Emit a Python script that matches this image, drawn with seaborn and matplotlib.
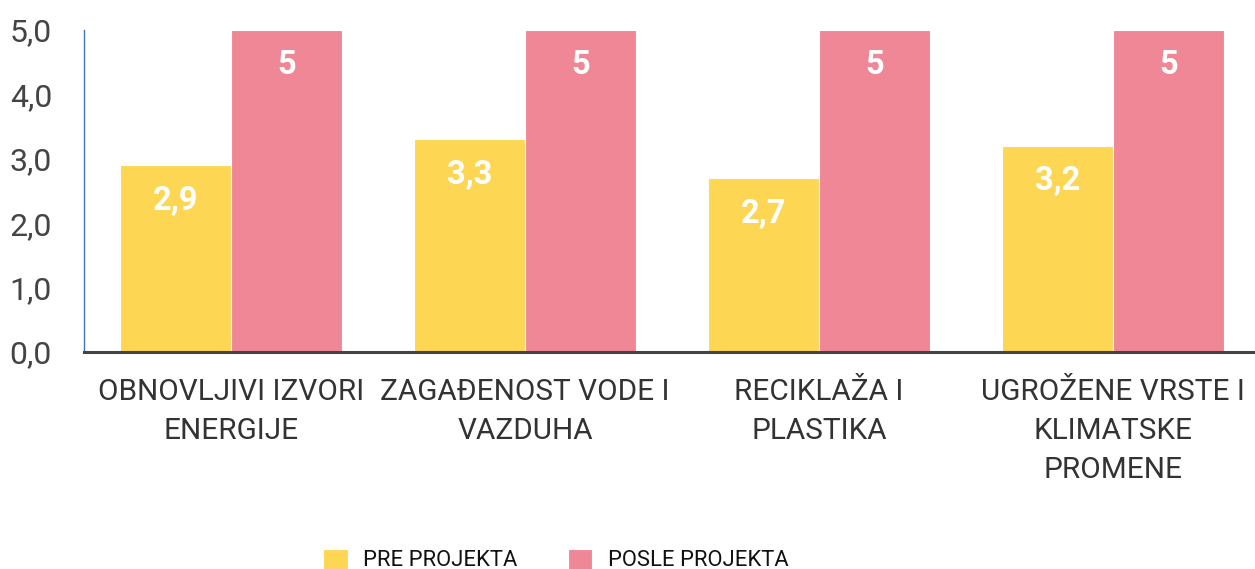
import seaborn as sns
import matplotlib.pyplot as plt
import pandas as pd

categories = ["OBNOVLJIVI IZVORI\nENERGIJE", "ZAGAĐENOST VODE I\nVAZDUHA",
              "RECIKLAŽA I\nPLASTIKA", "UGROŽENE VRSTE I\nKLIMATSKE\nPROMENE"]
series = ["PRE PROJEKTA", "POSLE PROJEKTA"]
pre = [2.9, 3.3, 2.7, 3.2]
posle = [5, 5, 5, 5]
yticks = [0, 1, 2, 3, 4, 5]

sns.set_style("white")
plt.rcParams['font.family'] = ['Roboto', 'DejaVu Sans']
palette = ["#FDD654", "#EF8797"]

df = pd.DataFrame({
    "kategorija": categories * 2,
    "vrednost": pre + posle,
    "serija": [series[0]] * len(categories) + [series[1]] * len(categories),
})

fig = plt.figure(figsize=(12.55, 5.69), dpi=100)
ax = fig.add_axes([84 / 1255, 1 - 352 / 569, 1176 / 1255, 322 / 569])

sns.barplot(data=df, x="kategorija", y="vrednost", hue="serija", palette=palette,
            width=0.755, gap=0, saturation=1, edgecolor="white", linewidth=0.8, ax=ax)

# value labels inside bar tops
for cont, vals in zip(ax.containers, [pre, posle]):
    for rect, v in zip(cont, vals):
        txt = f"{v:g}".replace(".", ",")
        ax.annotate(txt, (rect.get_x() + rect.get_width() / 2, rect.get_height()),
                    xytext=(0, -25.5), textcoords="offset points", ha="center", va="center",
                    color="white", fontsize=23.5, fontweight="bold")

ax.set_xlim(-0.5, len(categories) - 0.5)
ax.set_ylim(0, 5)
ax.set_yticks(yticks)
ax.set_yticklabels([f"{t:.1f}".replace(".", ",") for t in yticks])
ax.tick_params(axis="y", length=0, pad=23, labelsize=23, labelcolor="#444444")

# boundary ticks (major) and centred labels (minor)
ax.set_xticks([i - 0.5 for i in range(len(categories) + 1)])
ax.set_xticklabels([])
ax.tick_params(axis="x", which="major", length=6, width=2.2, color="#444444")
ax.set_xticks(range(len(categories)), minor=True)
ax.set_xticklabels(categories, minor=True, fontsize=21.4, color="#333333", linespacing=1.5)
ax.tick_params(axis="x", which="minor", length=0, pad=19)

ax.set_xlabel("")
ax.set_ylabel("")
for s in ["top", "right"]:
    ax.spines[s].set_visible(False)
ax.spines["bottom"].set_color("#444444")
ax.spines["bottom"].set_linewidth(2.2)
ax.spines["left"].set_color("#4472C4")
ax.spines["left"].set_linewidth(1)

sns.move_legend(ax, "center", bbox_to_anchor=(556 / 1255, 9 / 569), bbox_transform=fig.transFigure,
                ncol=2, frameon=False, title=None, fontsize=15.8, handlelength=1.1,
                handleheight=1.1, columnspacing=2.3, handletextpad=0.72, borderpad=0)
for t in ax.get_legend().get_texts():
    t.set_color("#111111")

fig.savefig("out.png", dpi=100)
